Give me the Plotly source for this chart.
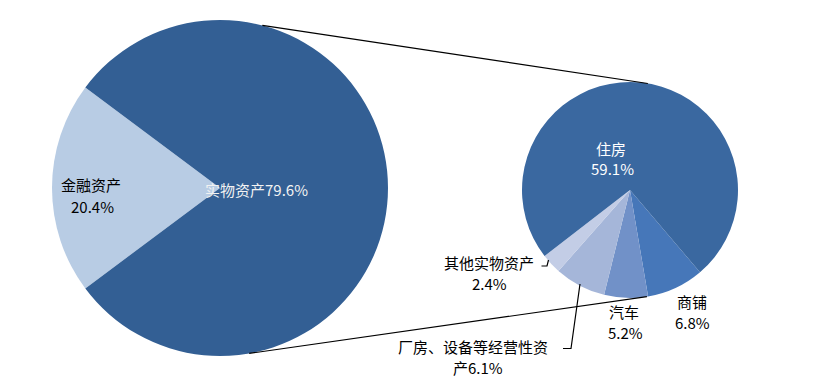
import math
import plotly.graph_objects as go

W, H = 816, 387

# ---- data ----
main_labels = ["金融资产", "实物资产"]
main_values = [20.4, 79.6]
main_colors = ["#b8cce4", "#335f94"]

sub_labels = ["商铺", "汽车", "厂房、设备等经营性资产", "其他实物资产", "住房"]
sub_values = [6.8, 5.2, 6.1, 2.4, 59.1]
sub_colors = ["#4677b9", "#7191c8", "#a5b6d9", "#c3cde6", "#3a68a0"]

# ---- geometry (pixels) ----
big_c, big_r = (220, 188), 168
small_c, small_r = (630, 190), 108


def dom(c, r):
    return dict(x=[(c[0] - r) / W, (c[0] + r) / W],
                y=[(H - c[1] - r) / H, (H - c[1] + r) / H])


def px(x, y):
    return x / W, 1 - y / H


def on_circle(c, r, ang):
    a = math.radians(ang)
    return c[0] + r * math.sin(a), c[1] - r * math.cos(a)


fin_span = main_values[0] / sum(main_values) * 360
sub_total = sum(sub_values)

fig = go.Figure()
fig.add_trace(go.Pie(
    labels=main_labels, values=main_values, sort=False, direction="clockwise",
    rotation=270 - fin_span / 2, textinfo="none", hoverinfo="label+value",
    marker=dict(colors=main_colors, line=dict(width=0)),
    domain=dom(big_c, big_r), showlegend=False))
fig.add_trace(go.Pie(
    labels=sub_labels, values=sub_values, sort=False, direction="clockwise",
    rotation=139.6, textinfo="none", hoverinfo="label+value",
    marker=dict(colors=sub_colors, line=dict(width=0)),
    domain=dom(small_c, small_r), showlegend=False))

shapes = []
# connector lines between the pies
for a_big, a_small in [(14.6, 9.5), (170, 171)]:
    x0, y0 = on_circle(big_c, big_r, a_big)
    x1, y1 = on_circle(small_c, small_r, a_small)
    X0, Y0 = px(x0, y0)
    X1, Y1 = px(x1, y1)
    shapes.append(dict(type="line", xref="paper", yref="paper", x0=X0, y0=Y0,
                       x1=X1, y1=Y1, line=dict(color="black", width=1.2)))

# leader lines
for pts in [[(541.5, 266), (547, 266), (548.5, 260)],
            [(563, 348.5), (571, 348.5), (580, 284)]]:
    path = ""
    for i, (x, y) in enumerate(pts):
        X, Y = px(x, y)
        path += ("M" if i == 0 else "L") + f"{X},{Y} "
    shapes.append(dict(type="path", xref="paper", yref="paper", path=path,
                       line=dict(color="black", width=1.2)))

FONT = "Noto Sans CJK SC"
ann = []


def label(x, y, text, color="black", size=15):
    X, Y = px(x, y)
    ann.append(dict(x=X, y=Y, xref="paper", yref="paper", text=text,
                    showarrow=False, xanchor="center", yanchor="middle",
                    font=dict(family=FONT, size=size, color=color)))


label(91, 184, main_labels[0])
label(92, 206, f"{main_values[0]}%")
label(256, 189, f"{main_labels[1]}{main_values[1]}%", color="#f2f2f2")
label(611, 148, sub_labels[4], color="white")
label(612, 169, f"{sub_values[4]}%", color="white")
label(692, 301, sub_labels[0])
label(692, 322, f"{sub_values[0]}%")
label(624, 311, sub_labels[1])
label(625, 332, f"{sub_values[1]}%")
label(489, 262, sub_labels[3])
label(489, 283, f"{sub_values[3]}%")
label(473, 346, "厂房、设备等经营性资")
label(478, 367, f"产{sub_values[2]}%")

fig.update_layout(width=W, height=H, margin=dict(l=0, r=0, t=0, b=0),
                  paper_bgcolor="white", plot_bgcolor="white",
                  shapes=shapes, annotations=ann,
                  font=dict(family=FONT))
fig.write_html("out.html", config={"displayModeBar": False})
